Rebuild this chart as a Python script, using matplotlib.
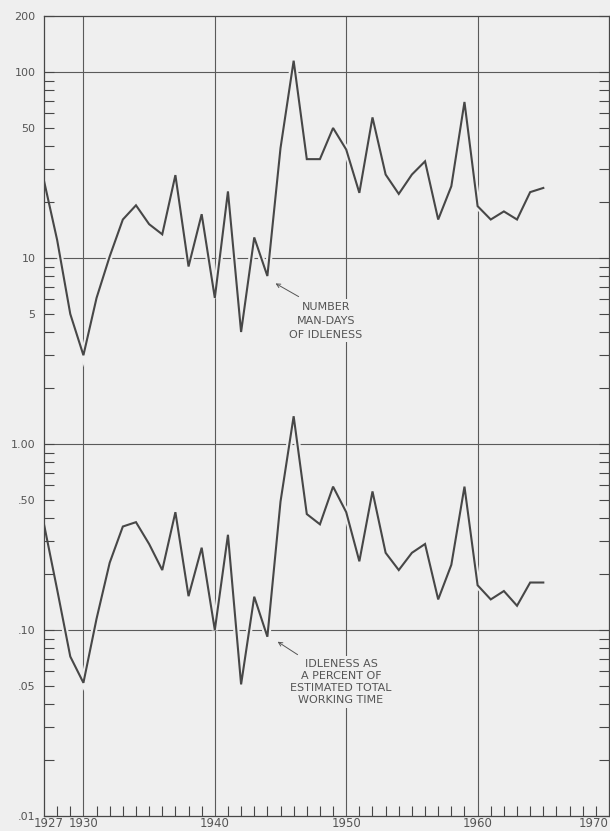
import matplotlib
matplotlib.use("Agg")
import matplotlib.pyplot as plt
import matplotlib.patheffects as pe
import matplotlib.transforms as mtransforms

years = list(range(1927, 1966))

# millions of man-days idle (upper curve)
man_days = [26, 12.5, 5.0, 3.0, 6.1, 10.2, 16.1, 19.2, 15.2, 13.4,
            27.9, 9.0, 17.2, 6.1, 22.8, 4.0, 12.9, 8.0, 39, 115,
            34, 34, 50, 38.3, 22.4, 57, 28.1, 22.1, 28.1, 33.1,
            16.1, 24.3, 69, 19, 16.1, 17.8, 16.1, 22.6, 23.8]

# idleness as percent of estimated total working time (lower curve)
pct_time = [0.37, 0.165, 0.072, 0.052, 0.115, 0.23, 0.36, 0.38, 0.29, 0.21,
            0.43, 0.152, 0.277, 0.10, 0.325, 0.051, 0.151, 0.092, 0.49, 1.41,
            0.42, 0.37, 0.59, 0.43, 0.234, 0.556, 0.26, 0.21, 0.26, 0.29,
            0.146, 0.224, 0.59, 0.174, 0.146, 0.162, 0.135, 0.18, 0.18]

y_ticks = [200, 100, 50, 10, 5, 1, 0.5, 0.1, 0.05, 0.01]
y_labels = ['200', '100', '50', '10', '5', '1.00', '.50', '.10', '.05', '.01']
x_ticks = [1927, 1930, 1940, 1950, 1960, 1970]
grid_y = [100, 10, 1, 0.1]
grid_x = [1930, 1940, 1950, 1960]

bg = '#efefef'
ink = '#474747'
txt = '#555555'
font = 'DejaVu Sans'

fig = plt.figure(figsize=(6.1, 8.31), dpi=100, facecolor=bg)
ax = fig.add_axes([44 / 610, 15 / 831, 565 / 610, 800 / 831])
ax.set_facecolor(bg)

ax.set_yscale('log')
ax.set_xlim(1927, 1970)
ax.set_ylim(0.01, 200)

# grid lines drawn by hand so the curves can break them
for g in grid_y:
    ax.axhline(g, color='#5a5a5a', lw=0.8, zorder=1)
for g in grid_x:
    ax.axvline(g, color='#5a5a5a', lw=0.8, zorder=1)

knock = [pe.Stroke(linewidth=4.5, foreground=bg), pe.Normal()]
ax.plot(years, man_days, color=ink, lw=1.5, zorder=2, path_effects=knock,
        solid_joinstyle='miter')
ax.plot(years, pct_time, color=ink, lw=1.5, zorder=2, path_effects=knock,
        solid_joinstyle='miter')

# ticks
ax.set_yticks(y_ticks)
ax.set_yticklabels(y_labels)
minor = [m * 10.0 ** d for d in range(-2, 2) for m in range(2, 10)]
ax.set_yticks(minor, minor=True)
ax.yaxis.set_minor_formatter(matplotlib.ticker.NullFormatter())
ax.tick_params(axis='y', which='both', direction='in', length=7, width=0.8,
               color=ink, left=True, right=True, labelsize=8, labelcolor=txt,
               pad=6)

ax.set_xticks(x_ticks)
ax.set_xticklabels([str(x) for x in x_ticks])
ax.set_xticks(range(1928, 1970), minor=True)
ax.tick_params(axis='x', which='both', direction='in', length=7, width=0.8,
               color=ink, top=False, labelsize=8.5, labelcolor=txt, pad=1)
ax.tick_params(axis='x', which='major', length=0)

for lab in ax.get_xticklabels() + ax.get_yticklabels():
    lab.set_family(font)

xlabs = ax.get_xticklabels()
xlabs[0].set_transform(xlabs[0].get_transform() +
                       mtransforms.ScaledTranslation(5 / 100, 0, fig.dpi_scale_trans))
xlabs[-1].set_horizontalalignment('right')

for s in ax.spines.values():
    s.set_color(ink)
    s.set_linewidth(0.9)
ax.set_axisbelow(False)

box = dict(facecolor=bg, edgecolor='none', pad=2)
ax.text(1948.45, 4.6, 'NUMBER\nMAN-DAYS\nOF IDLENESS', ha='center', va='center',
        fontsize=8, color=txt, family=font, linespacing=1.5, bbox=box, zorder=4)
ax.annotate('', xy=(1944.62, 7.3), xytext=(1946.38, 6.2),
            arrowprops=dict(arrowstyle='->', color=txt, lw=0.7,
                            mutation_scale=7, shrinkA=0, shrinkB=0), zorder=4)

ax.text(1949.6, 0.0527, 'IDLENESS AS\nA PERCENT OF\nESTIMATED TOTAL\nWORKING TIME',
        ha='center', va='center', fontsize=8, color=txt, family=font,
        linespacing=1.25, bbox=box, zorder=4)
ax.annotate('', xy=(1944.78, 0.0865), xytext=(1946.3, 0.0737),
            arrowprops=dict(arrowstyle='->', color=txt, lw=0.7,
                            mutation_scale=7, shrinkA=0, shrinkB=0), zorder=4)

fig.savefig('out.png', dpi=100, facecolor=bg)
